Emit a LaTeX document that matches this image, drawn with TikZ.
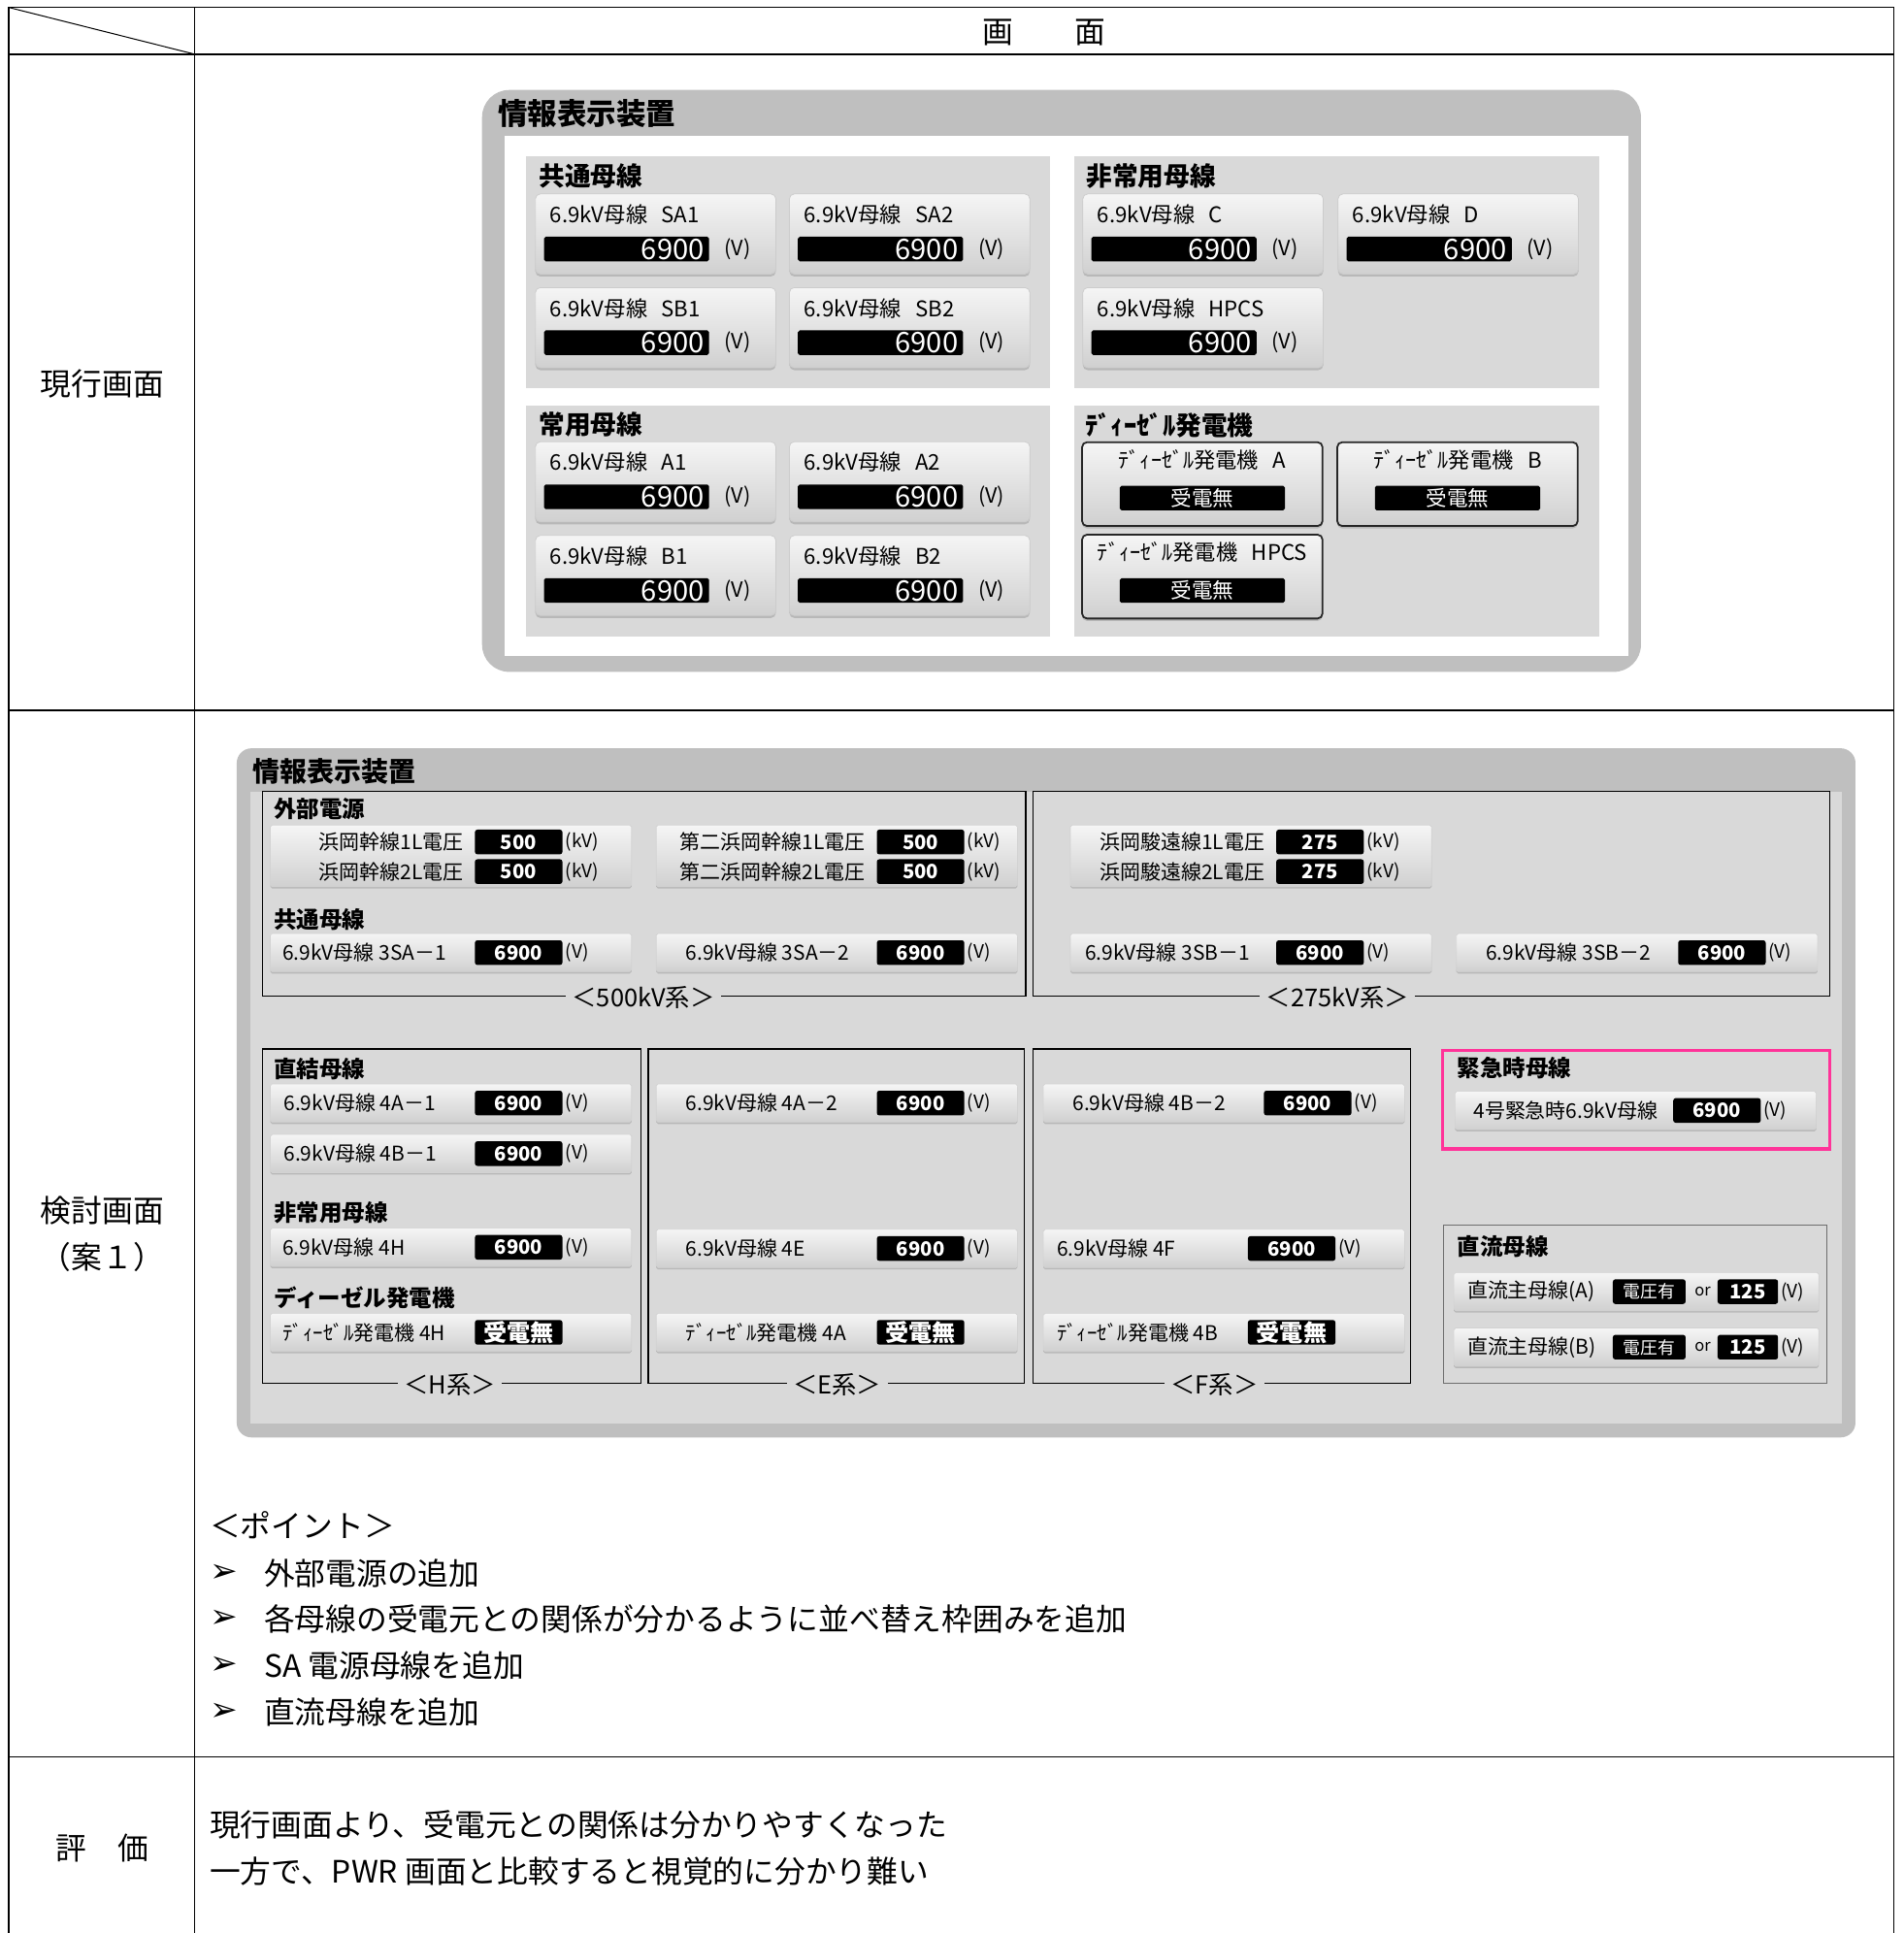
\documentclass[tikz,border=0pt]{standalone}
\usepackage{fontspec}
\setmainfont{Noto Sans CJK JP}
\newfontfamily\dingfont{DejaVu Sans}
\usetikzlibrary{positioning,shadows}

\definecolor{panelgray}{HTML}{BFBFBF}
\definecolor{groupgray}{HTML}{D9D9D9}
\definecolor{cardtop}{HTML}{F5F5F5}
\definecolor{cardbot}{HTML}{D0D0D0}
\definecolor{emgpink}{HTML}{FF3399}
\definecolor{dcgray}{HTML}{6E6E6E}

\newcommand\fs[1]{\fontsize{#1}{#1}\selectfont}
\newcommand\gap{\hspace{0.65em}}

\tikzset{
  grid line/.style={line width=1.2pt},
  cell text/.style={font=\fs{25}, inner sep=0pt},
  panel title/.style={font=\bfseries\fs{#1}, anchor=west, inner sep=0pt},
  group title/.style={font=\bfseries\fs{#1}, anchor=west, inner sep=0pt},
  old card/.style={anchor=north west, minimum width=195pt, minimum height=65pt,
    inner sep=0pt, rounded corners=4pt, top color=cardtop, bottom color=cardbot,
    draw=gray!40, line width=0.6pt,
    drop shadow={shadow xshift=0pt, shadow yshift=-2pt, fill=gray!80, opacity=0.5}},
  old gen card/.style={old card, minimum height=68pt, draw=black!85, line width=1.4pt},
  old label/.style={font=\fs{17.5}, anchor=west, inner sep=0pt},
  old disp/.style={anchor=west, fill=black, text=white, font=\fs{23}, inner xsep=4pt,
    inner ysep=0pt, text width=126pt, align=right, minimum height=20pt,
    text height=17pt, text depth=0pt, rounded corners=1.5pt},
  old unit/.style={font=\fs{17}, inner sep=0pt},
  gen bar/.style={fill=black, text=white, font=\fs{17}, minimum width=134pt,
    minimum height=20pt, inner sep=0pt, rounded corners=1.5pt},
  new card/.style={anchor=north west, minimum width=293pt, minimum height=31pt,
    inner sep=0pt, rounded corners=1.5pt, top color=cardtop, bottom color=cardbot,
    draw=gray!35, line width=0.5pt,
    drop shadow={shadow xshift=0pt, shadow yshift=-1.5pt, fill=gray!80, opacity=0.5}},
  new label/.style={font=\fs{16.5}, anchor=west, inner sep=0pt},
  new disp/.style={anchor=west, fill=black, text=white, font=\bfseries\fs{16},
    minimum width=71pt, minimum height=20pt, inner sep=0pt, rounded corners=2pt},
  new unit/.style={font=\fs{15}, inner sep=0pt},
  frame/.style={draw=black, line width=1.2pt},
  frame label/.style={fill=groupgray, font=\fs{20}, inner xsep=5pt, inner ysep=1pt},
  note text/.style={font=\fs{25}, anchor=west, inner sep=0pt},
}

% card of the current screen: name, x, y, label
\newcommand\oldbus[4]{%
  \node[old card] (#1) at (#2,#3) {};
  \node[old label] (#1-l) at ([xshift=12pt,yshift=-17pt]#1.north west) {#4};
  \node[old disp] (#1-v) at ([xshift=7pt,yshift=-45pt]#1.north west) {6900};
  \node[old unit, right=12pt of #1-v] (#1-u) {(V)};
}
\newcommand\oldgen[4]{%
  \node[old gen card] (#1) at (#2,#3) {};
  \node[old label, anchor=center] (#1-l) at ([yshift=-15pt]#1.north) {#4};
  \node[gen bar] (#1-v) at ([yshift=-46pt]#1.north) {受電無};
}
% card of the proposed screen: name, x, y, label dx, label, box dx, value, unit
\newcommand\newbus[8]{%
  \node[new card] (#1) at (#2,#3) {};
  \node[new label] (#1-l) at ([xshift=#4pt]#1.west) {#5};
  \node[new disp] (#1-v) at ([xshift=#6pt]#1.west) {#7};
  \node[new unit, right=2pt of #1-v] (#1-u) {#8};
}
% two-line card for line voltages: name, x, y, box dx, label 1, label 2, value
\newcommand\linecard[7]{%
  \node[new card, minimum height=50pt] (#1) at (#2,#3) {};
  \node[new disp] (#1-v1) at ([xshift=#4pt,yshift=-14pt]#1.north west) {#7};
  \node[new disp] (#1-v2) at ([xshift=#4pt,yshift=-38pt]#1.north west) {#7};
  \node[new label, left=9pt of #1-v1] (#1-l1) {#5};
  \node[new label, left=9pt of #1-v2] (#1-l2) {#6};
  \node[new unit, right=2pt of #1-v1] (#1-u1) {(kV)};
  \node[new unit, right=2pt of #1-v2] (#1-u2) {(kV)};
}

\begin{document}
\begin{tikzpicture}[x=1pt,y=-1pt]
\useasboundingbox (0,0) rectangle (1544,1568);

% table
\draw[grid line] (7,1568) -- (7,6) -- (1536,6) -- (1536,1568);
\draw[grid line] (158,6) -- (158,1568);
\foreach \y in {44,576,1425} \draw[grid line] (7,\y) -- (1536,\y);
\draw[line width=0.8pt] (7,6) -- (158,44);
\node[cell text] (head) at (847,26) {画　　面};
\node[cell text] (row-now) at (83,311) {現行画面};
\node[cell text] (row-plan) at (83,982) {検討画面};
\node[cell text] (row-plan2) at (83,1020) {（案１）};
\node[cell text] (row-eval) at (83,1499) {評　価};

% current screen
\fill[panelgray, rounded corners=22pt] (391,73) rectangle (1331,545);
\fill[white] (409,110) rectangle (1321,532);
\node[panel title=24] (old-title) at (404,92) {情報表示装置};
\fill[groupgray] (427,127) rectangle (852,315);
\fill[groupgray] (871,127) rectangle (1297,315);
\fill[groupgray] (427,329) rectangle (852,516);
\fill[groupgray] (871,329) rectangle (1297,516);
\node[group title=21] (g-common) at (437,143) {共通母線};
\node[group title=21] (g-emerg) at (881,143) {非常用母線};
\node[group title=21] (g-normal) at (437,344) {常用母線};
\node[group title=21] (g-dg) at (880,345) {ﾃﾞｨｰｾﾞﾙ発電機};
\foreach \n/\x/\y/\t in {sa1/434/157/SA1, sa2/640/157/SA2, sb1/434/233/SB1,
    sb2/640/233/SB2, busc/878/157/C, busd/1085/157/D, hpcs/878/233/HPCS,
    a1/434/358/A1, a2/640/358/A2, b1/434/434/B1, b2/640/434/B2}
  {\oldbus{\n}{\x}{\y}{6.9kV母線\gap\t}}
\oldgen{dga}{877}{358}{ﾃﾞｨｰｾﾞﾙ発電機\gap A}
\oldgen{dgb}{1084}{358}{ﾃﾞｨｰｾﾞﾙ発電機\gap B}
\oldgen{dgh}{877}{433}{ﾃﾞｨｰｾﾞﾙ発電機\gap HPCS}

% proposed screen
\fill[panelgray, rounded corners=12pt] (192,607) rectangle (1505,1166);
\fill[groupgray] (203,642) rectangle (1494,1155);
\node[panel title=22] (new-title) at (205,626) {情報表示装置};
\draw[frame] (213,642) rectangle (832,808);
\draw[frame] (838,642) rectangle (1484,808);
\draw[frame] (213,851) rectangle (520,1122);
\draw[frame] (526,851) rectangle (831,1122);
\draw[frame] (838,851) rectangle (1144,1122);
\draw[emgpink, line width=2.5pt] (1170,852) rectangle (1484,932);
\draw[dcgray, line width=0.9pt] (1171,994) rectangle (1482,1122);
\node[frame label] (sys500) at (522,809) {＜500kV系＞};
\node[frame label] (sys275) at (1085,809) {＜275kV系＞};
\node[frame label] (sysH) at (365,1123) {＜H系＞};
\node[frame label] (sysE) at (679,1123) {＜E系＞};
\node[frame label] (sysF) at (985,1123) {＜F系＞};

\node[group title=18.5] (t-ext) at (222,656) {外部電源};
\node[group title=18.5] (t-common) at (222,746) {共通母線};
\node[group title=18.5] (t-direct) at (222,867) {直結母線};
\node[group title=18.5] (t-emerg) at (222,984) {非常用母線};
\node[group title=18.5] (t-dg) at (222,1053) {ディーゼル発電機};
\node[group title=18.5] (t-urgent) at (1182,866) {緊急時母線};
\node[group title=18.5] (t-dc) at (1182,1011) {直流母線};

\linecard{hamaoka}{219}{669}{166}{浜岡幹線1L電圧}{浜岡幹線2L電圧}{500}
\linecard{daini}{532}{669}{179}{第二浜岡幹線1L電圧}{第二浜岡幹線2L電圧}{500}
\linecard{sunen}{868}{669}{167}{浜岡駿遠線1L電圧}{浜岡駿遠線2L電圧}{275}

\newbus{sa-1}{219}{757}{10}{6.9kV母線 3SA－1}{166}{6900}{(V)}
\newbus{sa-2}{532}{757}{24}{6.9kV母線 3SA－2}{179}{6900}{(V)}
\newbus{sb-1}{868}{757}{12}{6.9kV母線 3SB－1}{167}{6900}{(V)}
\newbus{sb-2}{1181}{757}{24}{6.9kV母線 3SB－2}{180}{6900}{(V)}
\newbus{a-1}{219}{879}{11}{6.9kV母線 4A－1}{166}{6900}{(V)}
\newbus{b-1}{219}{920}{11}{6.9kV母線 4B－1}{166}{6900}{(V)}
\newbus{a-2}{532}{879}{24}{6.9kV母線 4A－2}{179}{6900}{(V)}
\newbus{b-2}{846}{879}{24}{6.9kV母線 4B－2}{179}{6900}{(V)}
\newbus{urgent}{1180}{885}{15}{4号緊急時6.9kV母線}{177}{6900}{(V)}
\newbus{bus-h}{219}{996}{10}{6.9kV母線 4H}{166}{6900}{(V)}
\newbus{bus-e}{532}{997}{24}{6.9kV母線 4E}{179}{6900}{(V)}
\newbus{bus-f}{846}{997}{11}{6.9kV母線 4F}{166}{6900}{(V)}
\newbus{dg-h}{219}{1065}{10}{ﾃﾞｨｰｾﾞﾙ発電機 4H}{166}{\fs{19}受電無}{}
\newbus{dg-a}{532}{1065}{24}{ﾃﾞｨｰｾﾞﾙ発電機 4A}{179}{\fs{19}受電無}{}
\newbus{dg-b}{846}{1065}{11}{ﾃﾞｨｰｾﾞﾙ発電機 4B}{166}{\fs{19}受電無}{}

\foreach \s/\y in {A/1032, B/1077} {
  \node[new card, minimum width=296pt] (dc\s) at (1179,\y) {};
  \node[new label] (dc\s-l) at ([xshift=11pt]dc\s.west) {直流主母線(\s)};
  \node[new disp, minimum width=59pt, font=\fs{14}] (dc\s-v) at ([xshift=129pt]dc\s.west) {電圧有};
  \node[new unit, font=\fs{13}, right=7pt of dc\s-v] (dc\s-or) {or};
  \node[new disp, minimum width=49pt] (dc\s-n) at ([xshift=214pt]dc\s.west) {125};
  \node[new unit, right=2pt of dc\s-n] (dc\s-u) {(V)};
}

% points and evaluation
\node[note text] (points) at (170,1237) {＜ポイント＞};
\foreach \i/\y/\t in {1/1276/外部電源の追加,
    2/1313/各母線の受電元との関係が分かるように並べ替え枠囲みを追加,
    3/1351/SA 電源母線を追加, 4/1389/直流母線を追加} {
  \node[font=\dingfont\fs{27}, inner sep=0pt, anchor=west] (mark\i) at (170,\y) {➢};
  \node[note text] (point\i) at (214,\y) {\t};
}
\node[note text] (eval1) at (170,1480) {現行画面より、受電元との関係は分かりやすくなった};
\node[note text] (eval2) at (170,1518) {一方で、PWR 画面と比較すると視覚的に分かり難い};
\end{tikzpicture}
\end{document}
